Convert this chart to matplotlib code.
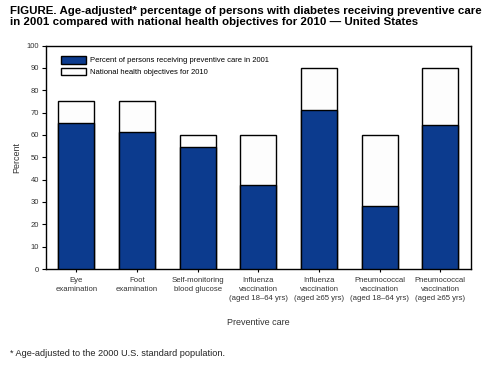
import matplotlib
matplotlib.use("Agg")
import matplotlib.pyplot as plt
import numpy as np

plt.rcParams["font.family"] = ["Liberation Sans", "DejaVu Sans"]

categories = [
    "Eye\nexamination",
    "Foot\nexamination",
    "Self-monitoring\nblood glucose",
    "Influenza\nvaccination\n(aged 18\u201364 yrs)",
    "Influenza\nvaccination\n(aged \u226565 yrs)",
    "Pneumococcal\nvaccination\n(aged 18\u201364 yrs)",
    "Pneumococcal\nvaccination\n(aged \u226565 yrs)",
]
pct_2001 = [65.5, 61.5, 54.8, 37.4, 71.3, 28.4, 64.6]
objective_2010 = [75, 75, 60, 60, 90, 60, 90]
yticks = list(range(0, 101, 10))

blue = "#0c3b8e"

fig = plt.figure(figsize=(4.85, 3.67), dpi=100)
ax = fig.add_axes([0.0948, 0.267, 0.8757, 0.609])

x = np.arange(len(categories))
w = 0.59
ax.bar(x, objective_2010, width=w, color="#fdfdfd", edgecolor="black",
       linewidth=1.0, label="National health objectives for 2010", zorder=2)
ax.bar(x, pct_2001, width=w, color=blue, edgecolor="black",
       linewidth=1.0, label="Percent of persons receiving preventive care in 2001", zorder=3)

ax.set_xlim(-0.5, len(categories) - 0.5)
ax.set_ylim(0, 100)
ax.set_yticks(yticks)
ax.set_yticklabels([str(t) for t in yticks], fontsize=5.5, color="#333333")
ax.set_xticks(x)
ax.set_xticklabels(categories, fontsize=5.6, color="#333333", linespacing=1.4)
ax.tick_params(axis="y", length=3, width=0.8, pad=2)
ax.tick_params(axis="x", length=2, width=0.8, pad=4)
for s in ax.spines.values():
    s.set_linewidth(1.0)

ax.set_ylabel("Percent", fontsize=6.5, color="#333333", labelpad=4)
ax.set_xlabel("Preventive care", fontsize=6.5, color="#333333", labelpad=11)

h, l = ax.get_legend_handles_labels()
ax.legend(h[::-1], l[::-1], loc="upper left", bbox_to_anchor=(0.02, 0.985),
          frameon=False, fontsize=5.5, handlelength=3.2, handleheight=1.2,
          handletextpad=0.6, labelspacing=0.45)

fig.text(0.021, 0.985, "FIGURE. Age-adjusted* percentage of persons with diabetes receiving preventive care\n"
         "in 2001 compared with national health objectives for 2010 \u2014 United States",
         fontsize=8.25, fontweight="bold", va="top", linespacing=1.2)
fig.text(0.021, 0.03, "* Age-adjusted to the 2000 U.S. standard population.",
         fontsize=6.6, color="#222222")

fig.savefig("out.png", dpi=100)
